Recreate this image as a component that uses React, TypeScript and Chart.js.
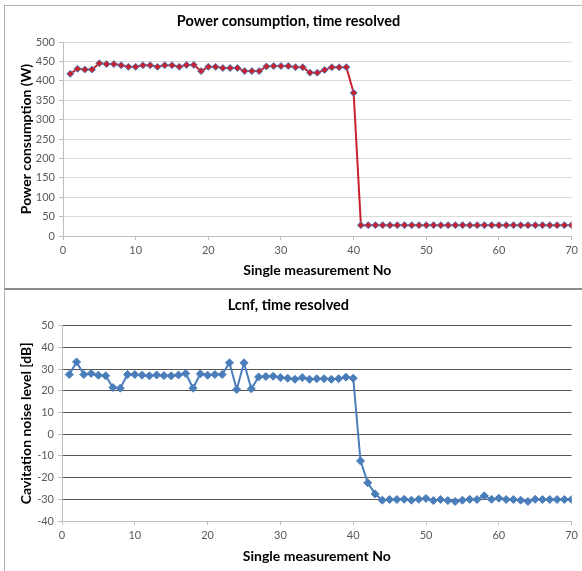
import React, { useEffect, useRef } from "react";
import { Chart, registerables } from "chart.js";

Chart.register(...registerables);

const measurementNo = [
  1, 2, 3, 4, 5, 6, 7, 8, 9, 10, 11, 12, 13, 14, 15, 16, 17, 18, 19, 20,
  21, 22, 23, 24, 25, 26, 27, 28, 29, 30, 31, 32, 33, 34, 35, 36, 37, 38, 39, 40,
  41, 42, 43, 44, 45, 46, 47, 48, 49, 50, 51, 52, 53, 54, 55, 56, 57, 58, 59, 60,
  61, 62, 63, 64, 65, 66, 67, 68, 69, 70,
];

const powerW = [
  418, 431, 429, 429, 445, 443, 443, 440, 436, 436, 440, 440, 436, 440, 440, 436, 441, 441, 425, 436,
  436, 433, 433, 433, 425, 425, 425, 437, 438, 438, 438, 435, 435, 421, 421, 428, 435, 435, 435, 369,
  28, 28, 28, 28, 28, 28, 28, 28, 28, 28, 28, 28, 28, 28, 28, 28, 28, 28, 28, 28,
  28, 28, 28, 28, 28, 28, 28, 28, 28, 28,
];

const noiseDb = [
  27.5, 33.3, 27.5, 28, 27.2, 26.9, 21.5, 21.2, 27.5, 27.5, 27.2, 26.9, 27.3, 27, 26.9, 27.3, 28, 21.2, 27.8, 27.2,
  27.5, 27.5, 32.9, 20.6, 32.9, 20.9, 26.4, 26.6, 26.7, 26.1, 25.8, 25.3, 26.1, 25.3, 25.6, 25.6, 25.3, 25.6, 26.3, 25.8,
  -12.3, -22.4, -27.5, -30.4, -30.1, -30.1, -30, -30.4, -30, -29.6, -30.6, -30.1, -30.6, -31, -30.4, -30, -30.1, -28.4, -30, -29.5,
  -30.1, -30.1, -30.4, -31, -30, -30.1, -30.1, -30.1, -30.1, -30.1,
];

const topTitle = "Power consumption, time resolved";
const topYTitle = "Power consumption (W)";
const bottomTitle = "Lcnf, time resolved";
const bottomYTitle = "Cavitation noise level [dB]";
const xTitle = "Single measurement No";

const FONT = "Lato, 'Open Sans', sans-serif";
const TICK_COLOR = "#595959";

function makeOptions(cfg: any) {
  return {
    responsive: false,
    animation: false,
    layout: { padding: { left: 0, right: cfg.padRight, top: 0, bottom: 0 } },
    plugins: {
      legend: { display: false },
      tooltip: { enabled: false },
      title: {
        display: true,
        text: cfg.title,
        color: "#000",
        font: { family: FONT, size: 14.5, weight: "bold" },
        padding: { top: cfg.titleTop, bottom: cfg.titleBottom },
      },
    },
    scales: {
      x: {
        type: "linear",
        min: 0,
        max: 70,
        ticks: { stepSize: 10, color: TICK_COLOR, font: { family: FONT, size: 11 }, padding: 4, maxRotation: 0 },
        grid: { drawOnChartArea: false, drawTicks: true, tickLength: 4, tickColor: "#bfbfbf" },
        border: { color: "#bfbfbf" },
        title: {
          display: true,
          text: xTitle,
          color: "#000",
          font: { family: FONT, size: 14, weight: "bold" },
          padding: { top: 0, bottom: cfg.xTitleBottom },
        },
        afterFit: (s: any) => {
          s.height = cfg.xHeight;
        },
      },
      y: {
        min: cfg.yMin,
        max: cfg.yMax,
        ticks: { stepSize: cfg.yStep, color: TICK_COLOR, font: { family: FONT, size: 11 }, padding: 4 },
        grid: { color: cfg.gridColor, lineWidth: 1, tickLength: 4, tickColor: "#bfbfbf" },
        border: { color: "#bfbfbf" },
        title: {
          display: true,
          text: cfg.yTitle,
          color: "#000",
          font: { family: FONT, size: 14, weight: "bold" },
          padding: { top: 12.6, bottom: 0 },
        },
        afterFit: (s: any) => {
          s.width = cfg.yWidth;
        },
      },
    },
  };
}

function ChartPanel(props: { config: any; width: number; height: number }) {
  const ref = useRef<HTMLCanvasElement | null>(null);
  useEffect(() => {
    if (!ref.current) return;
    const chart = new Chart(ref.current, props.config);
    return () => chart.destroy();
  }, []);
  return <canvas ref={ref} width={props.width} height={props.height} style={{ display: "block" }} />;
}

export default function App() {
  const topConfig: any = {
    type: "line",
    data: {
      datasets: [
        {
          data: measurementNo.map((x, i) => ({ x, y: powerW[i] })),
          borderColor: "#c8202c",
          borderWidth: 2,
          tension: 0,
          pointStyle: "rectRot",
          pointRadius: 3.5,
          pointBackgroundColor: "#c8202c",
          pointBorderColor: "#4f81bd",
          pointBorderWidth: 1,
        },
      ],
    },
    options: makeOptions({
      title: topTitle,
      titleTop: 6.8,
      titleBottom: 11.8,
      xTitleBottom: 9.6,
      xHeight: 52,
      yWidth: 58,
      padRight: 10,
      yMin: 0,
      yMax: 500,
      yStep: 50,
      yTitle: topYTitle,
      gridColor: "#d9d9d9",
    }),
  };

  const bottomConfig: any = {
    type: "line",
    data: {
      datasets: [
        {
          data: measurementNo.map((x, i) => ({ x, y: noiseDb[i] })),
          borderColor: "#4a7ebb",
          borderWidth: 2,
          tension: 0,
          pointStyle: "rectRot",
          pointRadius: 4,
          pointBackgroundColor: "#4a7ebb",
          pointBorderColor: "#4a7ebb",
          pointBorderWidth: 1,
        },
      ],
    },
    options: makeOptions({
      title: bottomTitle,
      titleTop: 6.3,
      titleBottom: 12,
      xTitleBottom: 5.9,
      xHeight: 50,
      yWidth: 57,
      padRight: 10.3,
      yMin: -40,
      yMax: 50,
      yStep: 10,
      yTitle: bottomYTitle,
      gridColor: "#555555",
    }),
  };

  return (
    <div style={{ position: "absolute", left: 0, top: 0, width: 582, height: 571, background: "#fff", overflow: "hidden" }}>
      <div
        style={{
          position: "absolute",
          left: 4,
          top: 5,
          width: 578,
          height: 283,
          borderTop: "1px solid #b3b3b3",
          borderLeft: "1px solid #b3b3b3",
          boxSizing: "border-box",
        }}
      >
        <ChartPanel config={topConfig} width={577} height={282} />
      </div>
      <div
        style={{
          position: "absolute",
          left: 4,
          top: 288,
          width: 578,
          height: 283,
          borderTop: "2px solid #8c8c8c",
          borderLeft: "1px solid #b3b3b3",
          boxSizing: "border-box",
        }}
      >
        <ChartPanel config={bottomConfig} width={577} height={281} />
      </div>
    </div>
  );
}
